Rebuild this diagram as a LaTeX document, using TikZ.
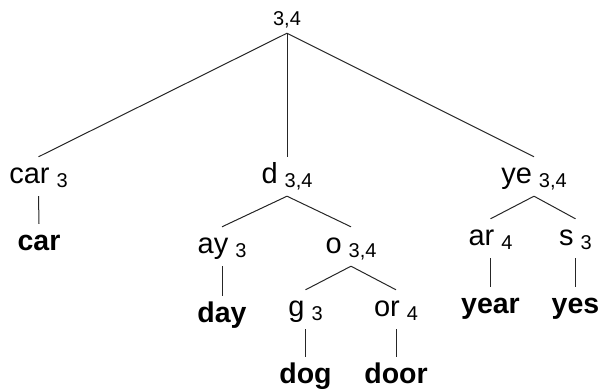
\documentclass[tikz,border=0pt]{standalone}
\usepackage{fontspec}
\setmainfont{Liberation Sans}
\newcommand\lab[2]{#1\hspace{7pt}\raisebox{-4pt}{\fontsize{20}{24}\selectfont #2}}
\begin{document}
\begin{tikzpicture}[x=1pt,y=-1pt,
  inner/.style={font=\fontsize{29}{34}\selectfont, text height=20pt, text depth=7pt, inner sep=6pt, anchor=base},
  leaf/.style={font=\fontsize{28.5}{34}\selectfont\bfseries, text height=20pt, text depth=7pt, inner sep=6pt, anchor=base},
  rootnode/.style={font=\fontsize{20}{24}\selectfont, text height=14pt, text depth=4pt, inner sep=3pt, anchor=base},
  edge/.style={draw=black!85, line width=1pt}]
\useasboundingbox (0,0) rectangle (601,390);
% root
\node[rootnode] (root) at (287,26) {3,4};
% level 1
\node[inner] (car) at (38.5,183) {\lab{car}{3}};
\node[inner] (d) at (287,183) {\lab{d}{3,4}};
\node[inner] (ye) at (534,183) {\lab{ye}{3,4}};
% level 2
\node[inner] (ay) at (222,253) {\lab{ay}{3}};
\node[inner] (o) at (351,253) {\lab{o}{3,4}};
\node[inner] (ar) at (490.5,245) {\lab{ar}{4}};
\node[inner] (s) at (575.5,245) {\lab{s}{3}};
% level 3
\node[inner] (g) at (305.5,316) {\lab{g}{3}};
\node[inner] (or) at (396,316) {\lab{or}{4}};
% leaves
\node[leaf] (wcar) at (39,250) {car};
\node[leaf] (wday) at (222,322) {day};
\node[leaf] (wdog) at (305.5,383) {dog};
\node[leaf] (wdoor) at (396,383) {door};
\node[leaf] (wyear) at (490.5,313) {year};
\node[leaf] (wyes) at (575.5,313) {yes};
% edges
\path[edge] (root.south) -- (car.north);
\path[edge] (root.south) -- (d.north);
\path[edge] (root.south) -- (ye.north);
\path[edge] (car.south) -- (wcar.north);
\path[edge] (d.south) -- (ay.north);
\path[edge] (d.south) -- (o.north);
\path[edge] (ay.south) -- (wday.north);
\path[edge] (o.south) -- (g.north);
\path[edge] (o.south) -- (or.north);
\path[edge] (g.south) -- (wdog.north);
\path[edge] (or.south) -- (wdoor.north);
\path[edge] (ye.south) -- (ar.north);
\path[edge] (ye.south) -- (s.north);
\path[edge] (ar.south) -- (wyear.north);
\path[edge] (s.south) -- (wyes.north);
\end{tikzpicture}
\end{document}
